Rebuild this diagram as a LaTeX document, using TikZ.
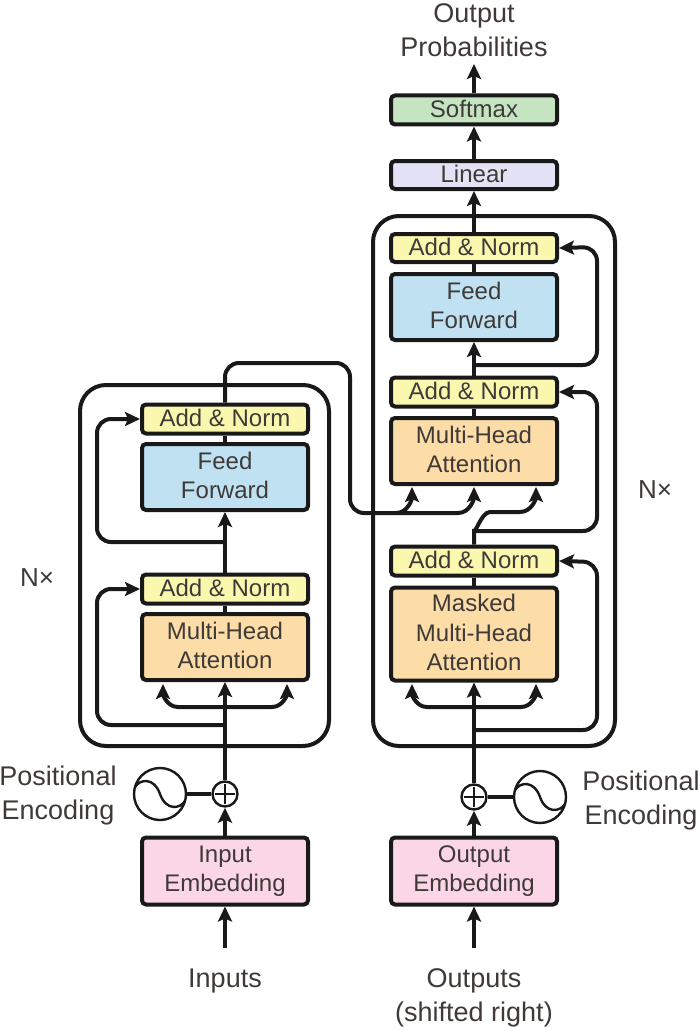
\documentclass[tikz,border=0pt]{standalone}
\usepackage{fontspec}
\setmainfont{Liberation Sans}
\usetikzlibrary{arrows.meta}

\definecolor{normYellow}{HTML}{FAF8AE}
\definecolor{feedBlue}{HTML}{BFE1F2}
\definecolor{attnOrange}{HTML}{FCDDA8}
\definecolor{embedPink}{HTML}{FAD6E6}
\definecolor{softGreen}{HTML}{C4E4C2}
\definecolor{linearLilac}{HTML}{E3E3F5}
\definecolor{labelGrey}{HTML}{3F3A38}

\tikzset{
    block/.style={draw=black!90, line width=4pt, rounded corners=4pt, inner sep=0pt,
        minimum width=166pt, align=center, text=labelGrey,
        font=\fontsize{24}{29.5}\selectfont, execute at end node={\rule[-3pt]{0pt}{0pt}}},
    plainblock/.style={block, execute at end node={}},
    label/.style={inner sep=0pt, align=center, text=labelGrey,
        font=\fontsize{27}{34}\selectfont},
    stacklabel/.style={label, font=\fontsize{26}{30}\selectfont},
    conn/.style={line width=4pt, black!90},
    arrowconn/.style={conn, -{Stealth[length=15pt,width=14pt,inset=3pt]}},
    stack/.style={draw=black!90, line width=4pt, rounded corners=26pt},
    thinline/.style={line width=2.4pt, black!90},
    plusnode/.style={circle, draw=black!90, line width=2.4pt, fill=white, minimum size=25pt, inner sep=0pt},
    sinenode/.style={circle, draw=black!90, line width=2.4pt, fill=white, minimum size=52pt, inner sep=0pt}
}

\begin{document}
\begin{tikzpicture}[x=1pt, y=-1pt]
            \useasboundingbox (0,0) rectangle (700,1030);

            % Encoder and decoder stacks
            \draw[stack] (80,385) rectangle (329,746);
            \draw[stack] (373,216) rectangle (615,746);

            % Encoder blocks
            \node[block, fill=normYellow, minimum height=29pt] (encNormB) at (225,419) {Add \& Norm};
            \node[block, fill=feedBlue, minimum height=66pt] (encFeed) at (225,477) {Feed\\Forward};
            \node[block, fill=normYellow, minimum height=29pt] (encNormA) at (225,589) {Add \& Norm};
            \node[block, fill=attnOrange, minimum height=66pt] (encAttn) at (225,647) {Multi-Head\\Attention};
            \node[block, fill=embedPink, minimum height=67pt] (inEmbed) at (225,871) {Input\\Embedding};

            % Decoder blocks
            \node[plainblock, fill=softGreen, minimum height=29pt] (softmax) at (474,110) {Softmax};
            \node[plainblock, fill=linearLilac, minimum height=28pt] (linear) at (474,175) {Linear};
            \node[block, fill=normYellow, minimum height=28pt] (decNormC) at (474,248) {Add \& Norm};
            \node[block, fill=feedBlue, minimum height=66pt] (decFeed) at (474,307) {Feed\\Forward};
            \node[block, fill=normYellow, minimum height=29pt] (decNormB) at (474,392) {Add \& Norm};
            \node[block, fill=attnOrange, minimum height=66pt] (decAttn) at (474,451) {Multi-Head\\Attention};
            \node[block, fill=normYellow, minimum height=29pt] (decNormA) at (474,561) {Add \& Norm};
            \node[block, fill=attnOrange, minimum height=93pt] (decMask) at (474,634) {Masked\\Multi-Head\\Attention};
            \node[block, fill=embedPink, minimum height=67pt] (outEmbed) at (474,871) {Output\\Embedding};

            % Positional encoding
            \node[plusnode] (inPlus) at (225,794) {};
            \node[sinenode] (inSine) at (160,794) {};
            \node[plusnode] (outPlus) at (474,797) {};
            \node[sinenode] (outSine) at (540,797) {};

            % Labels
            \node[label] (probs) at (474,30) {Output\\Probabilities};
            \node[label] (inputs) at (225,981) {Inputs};
            \node[label] (outputs) at (474,998) {Outputs\\(shifted right)};
            \node[label] (inPos) at (58,796) {Positional\\Encoding};
            \node[label] (outPos) at (641,801) {Positional\\Encoding};
            \node[stacklabel] (encN) at (37,578) {N×};
            \node[stacklabel] (decN) at (655,490) {N×};

            % Free ends
            \coordinate (inStart) at (225,948);
            \coordinate (outStart) at (474,948);
            \coordinate (probsEnd) at (474,64);

            % Draw edges, encoder
            \draw[arrowconn] (inStart) -- (inEmbed.south);
            \draw[arrowconn] (inEmbed.north) -- (inPlus.south);
            \draw[conn] (inSine.east) -- (inPlus.west);
            \draw[arrowconn] (inPlus.north) -- (encAttn.south);
            \draw[arrowconn] (225,707) -- (178,707) to[out=180,in=-90] (163,684);
            \draw[arrowconn] (225,707) -- (272,707) to[out=0,in=-90] (287,684);
            \draw[arrowconn, rounded corners=14pt] (225,725) -- (97,725) -- (97,589) -- (encNormA.west);
            \draw[conn] (encAttn.north) -- (encNormA.south);
            \draw[arrowconn] (encNormA.north) -- (encFeed.south);
            \draw[arrowconn, rounded corners=14pt] (225,542) -- (97,542) -- (97,419) -- (encNormB.west);
            \draw[conn] (encFeed.north) -- (encNormB.south);

            % Draw edges, encoder to decoder
            \draw[conn, rounded corners=14pt] (encNormB.north) -- (225,363) -- (350,363) -- (350,513) -- (396,513);
            \draw[arrowconn] (396,513) to[out=0,in=-90] (412,487);
            \draw[arrowconn] (396,513) -- (458,513) to[out=0,in=-90] (474,487);

            % Draw edges, decoder
            \draw[arrowconn] (outStart) -- (outEmbed.south);
            \draw[arrowconn] (outEmbed.north) -- (outPlus.south);
            \draw[conn] (outSine.west) -- (outPlus.east);
            \draw[arrowconn] (outPlus.north) -- (decMask.south);
            \draw[arrowconn] (474,707) -- (427,707) to[out=180,in=-90] (412,684);
            \draw[arrowconn] (474,707) -- (521,707) to[out=0,in=-90] (536,684);
            \draw[arrowconn, rounded corners=14pt] (474,730) -- (597,730) -- (597,562) -- (decNormA.east);
            \draw[conn] (decMask.north) -- (decNormA.south);
            \draw[conn] (decNormA.north) -- (474,529) to[out=-90,in=180] (490,512) -- (520,512);
            \draw[arrowconn] (520,512) to[out=0,in=-90] (536,487);
            \draw[arrowconn, rounded corners=14pt] (474,531) -- (597,531) -- (597,392) -- (decNormB.east);
            \draw[conn] (decAttn.north) -- (decNormB.south);
            \draw[arrowconn] (decNormB.north) -- (decFeed.south);
            \draw[arrowconn, rounded corners=14pt] (474,365) -- (597,365) -- (597,247) -- (decNormC.east);
            \draw[conn] (decFeed.north) -- (decNormC.south);
            \draw[arrowconn] (decNormC.north) -- (linear.south);
            \draw[arrowconn] (linear.north) -- (softmax.south);
            \draw[arrowconn] (softmax.north) -- (probsEnd);

            % Plus signs and sine waves
            \draw[thinline, shift={(inPlus.center)}] (0,-10) -- (0,10) (-10,0) -- (10,0);
            \draw[thinline, shift={(outPlus.center)}] (0,-10) -- (0,10) (-10,0) -- (10,0);
            \draw[thinline, shift={(inSine.center)}] (-25,-7) .. controls (-20,-15) and (-6,-17) .. (0,0) .. controls (6,17) and (20,15) .. (25,7);
            \draw[thinline, shift={(outSine.center)}] (-25,-7) .. controls (-20,-15) and (-6,-17) .. (0,0) .. controls (6,17) and (20,15) .. (25,7);
\end{tikzpicture}
\end{document}
